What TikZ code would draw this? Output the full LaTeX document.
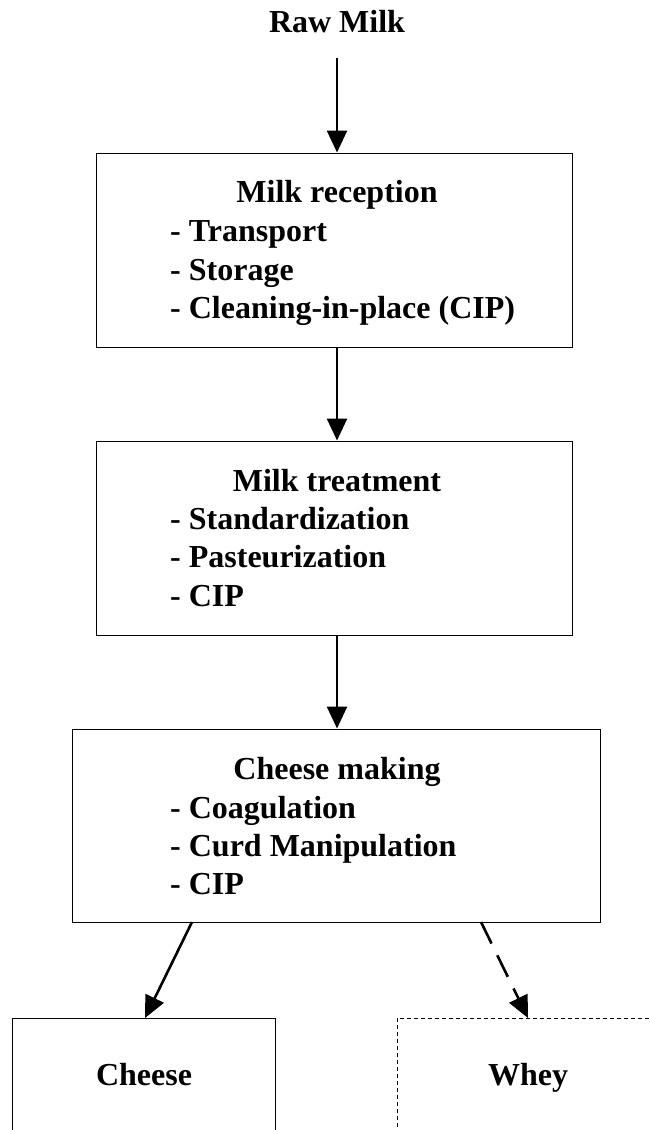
\documentclass[tikz,border=0pt]{standalone}
\usepackage{fontspec}
\setmainfont{Liberation Serif}
\usetikzlibrary{arrows.meta}
\begin{document}
\begin{tikzpicture}[x=1pt,y=-1pt,
  boxs/.style={draw, line width=1pt, inner sep=0pt},
  txt/.style={font=\fontsize{32}{36}\selectfont\bfseries, inner sep=0pt, anchor=base},
  item/.style={txt, anchor=base west},
  flow/.style={line width=2.6pt, -{Triangle[length=22pt,width=20pt]}},
  ]
\useasboundingbox (0,0) rectangle (650,1130);
\clip (0,0) rectangle (650,1130);
% top label
\node[txt] (raw) at (337,32) {Raw Milk};
\coordinate (rawend) at (337,58);
% boxes
\node[boxs, minimum width=476pt, minimum height=194pt] (b1) at (334,250) {};
\node[boxs, minimum width=476pt, minimum height=194pt] (b2) at (334,538) {};
\node[boxs, minimum width=528pt, minimum height=193pt] (b3) at (336,825.5) {};
\node[boxs, minimum width=263pt, minimum height=140pt] (cheese) at (143.5,1088) {};
\node[boxs, dash pattern=on 4pt off 3pt, minimum width=280pt, minimum height=140pt] (whey) at (537,1088) {};
% texts
\node[txt] (t1) at (337,202) {Milk reception};
\node[item] (t1a) at (170,241) {- Transport};
\node[item] (t1b) at (170,280) {- Storage};
\node[item] (t1c) at (170,318) {- Cleaning-in-place (CIP)};
\node[txt] (t2) at (337,491) {Milk treatment};
\node[item] (t2a) at (170,529) {- Standardization};
\node[item] (t2b) at (170,567) {- Pasteurization};
\node[item] (t2c) at (170,606) {- CIP};
\node[txt] (t3) at (337,779) {Cheese making};
\node[item] (t3a) at (170,818) {- Coagulation};
\node[item] (t3b) at (170,856) {- Curd Manipulation};
\node[item] (t3c) at (170,894) {- CIP};
\node[txt] (tc) at (144,1085) {Cheese};
\node[txt] (tw) at (528,1085) {Whey};
% connectors
\coordinate (c1) at (337,347);
\coordinate (c2) at (337,635);
\coordinate (c3a) at (192,922);
\coordinate (c3b) at (481,922);
\coordinate (ch) at (145,1018);
\coordinate (wh) at (528,1018);
\draw[flow] (rawend) -- (b1.north -| rawend);
\draw[flow] (c1) -- (b2.north -| c1);
\draw[flow] (c2) -- (b3.north -| c2);
\draw[flow] (c3a) -- (ch);
\draw[flow, dash pattern=on 24pt off 13pt] (c3b) -- (wh);
\end{tikzpicture}
\end{document}
